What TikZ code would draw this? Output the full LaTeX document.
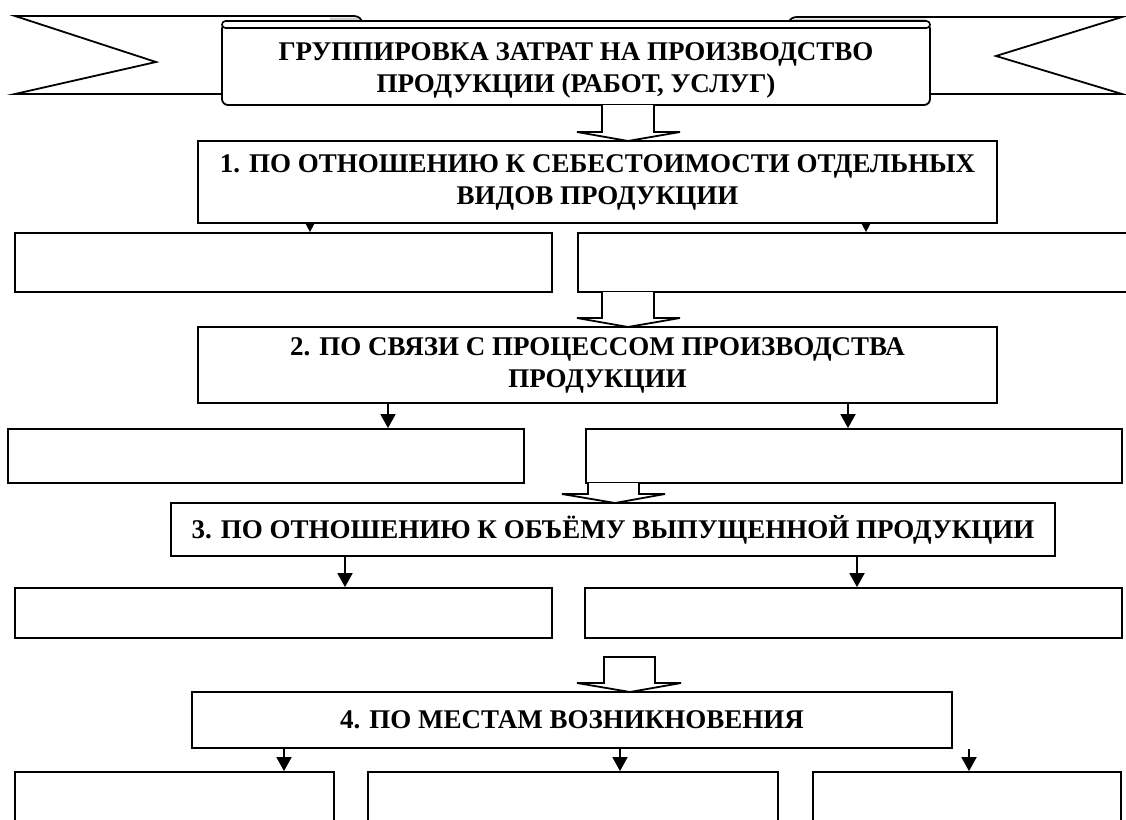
\documentclass[tikz,border=0pt]{standalone}
\usepackage{fontspec}
\setmainfont{Liberation Serif}
\usetikzlibrary{arrows.meta}

\tikzset{
  txt/.style={font=\bfseries\fontsize{27}{32}\selectfont, align=center},
  box/.style={draw, line width=1.8pt, fill=white, inner sep=0pt, txt},
  arr/.style={-{Triangle[width=15pt,length=14pt]}, line width=1.8pt},
  tinyarr/.style={-{Triangle[width=8pt,length=8pt]}, line width=1.4pt},
  bigarr/.style={draw, line width=1.8pt, fill=white},
  ribbon/.style={draw, line width=1.8pt, fill=white},
}

\begin{document}
\begin{tikzpicture}[x=1pt,y=-1pt]
  \useasboundingbox[fill=white] (0,0) rectangle (1126,819);

  % ribbon ends behind the title
  \filldraw[ribbon] (222,94) -- (15,94) -- (156,62) -- (15,16) -- (354,16)
    to[out=0,in=90] (362,23) -- (362,30);
  \fill[gray!40] (330,17.5) -- (353,17.5) to[out=0,in=90] (361,23) -- (330,23) -- cycle;
  \filldraw[ribbon] (930,94) -- (1122,94) -- (996,56) -- (1122,17) -- (797,17)
    to[out=180,in=90] (789,23) -- (789,30);
  \fill[gray!40] (790,23) to[out=90,in=180] (797,18.5) -- (926,18.5) -- (926,23) -- cycle;

  % title
  \node[box, rounded corners=6pt, minimum width=708pt, minimum height=82pt] (ttl) at (576,64) {};
  \filldraw[line width=1.6pt, fill=white, rounded corners=3.5pt] (222,21) rectangle (930,28);
  \node[txt] at (576,70) {ГРУППИРОВКА ЗАТРАТ НА ПРОИЗВОДСТВО\\ПРОДУКЦИИ (РАБОТ, УСЛУГ)};

  % level 1
  \node[box, minimum width=799pt, minimum height=82pt] (b1) at (597.5,182)
    {1. ПО ОТНОШЕНИЮ К СЕБЕСТОИМОСТИ ОТДЕЛЬНЫХ\\ВИДОВ ПРОДУКЦИИ};
  \node[box, minimum width=537pt, minimum height=59pt] (r1l) at (283.5,262.5) {};
  \node[box, minimum width=562pt, minimum height=59pt] (r1r) at (859,262.5) {};

  % level 2
  \node[box, minimum width=799pt, minimum height=76pt] (b2) at (597.5,365)
    {2. ПО СВЯЗИ С ПРОЦЕССОМ ПРОИЗВОДСТВА\\ПРОДУКЦИИ};
  \node[box, minimum width=516pt, minimum height=54pt] (r2l) at (266,456) {};
  \node[box, minimum width=536pt, minimum height=54pt] (r2r) at (854,456) {};

  % level 3
  \node[box, minimum width=884pt, minimum height=53pt] (b3) at (613,529.5)
    {3. ПО ОТНОШЕНИЮ К ОБЪЁМУ ВЫПУЩЕННОЙ ПРОДУКЦИИ};
  \node[box, minimum width=537pt, minimum height=50pt] (r3l) at (283.5,613) {};
  \node[box, minimum width=537pt, minimum height=50pt] (r3r) at (853.5,613) {};

  % level 4
  \node[box, minimum width=760pt, minimum height=56pt] (b4) at (572,720)
    {4. ПО МЕСТАМ ВОЗНИКНОВЕНИЯ};
  \node[box, minimum width=319pt, minimum height=68pt] (r4a) at (174.5,806) {};
  \node[box, minimum width=410pt, minimum height=68pt] (r4b) at (573,806) {};
  \node[box, minimum width=308pt, minimum height=68pt] (r4c) at (967,806) {};

  % wide arrows between levels
  \draw[bigarr] (602,105) -- (602,132) -- (577,132) -- (628,141) -- (680,132) -- (654,132) -- (654,105);
  \draw[bigarr] (602,292) -- (602,318) -- (577,318) -- (628,327) -- (680,318) -- (654,318) -- (654,292);
  \draw[bigarr] (588,483) -- (588,494) -- (562,494) -- (615,503) -- (665,494) -- (639,494) -- (639,483);
  \draw[bigarr] (604,657) -- (604,683) -- (577,683) -- (630,692) -- (681,683) -- (655,683) -- (655,657) -- cycle;

  % thin arrows
  \coordinate (c1) at (310,0);
  \coordinate (c2) at (866,0);
  \coordinate (c3) at (388,0);
  \coordinate (c4) at (848,0);
  \coordinate (c5) at (345,0);
  \coordinate (c6) at (857,0);
  \coordinate (c7) at (284,0);
  \coordinate (c8) at (620,0);
  \coordinate (c9) at (969,0);
  \draw[tinyarr] (c1 |- b1.south) -- (c1 |- r1l.north);
  \draw[tinyarr] (c2 |- b1.south) -- (c2 |- r1r.north);
  \draw[arr] (c3 |- b2.south) -- (c3 |- r2l.north);
  \draw[arr] (c4 |- b2.south) -- (c4 |- r2r.north);
  \draw[arr] (c5 |- b3.south) -- (c5 |- r3l.north);
  \draw[arr] (c6 |- b3.south) -- (c6 |- r3r.north);
  \draw[arr] (c7 |- b4.south) -- (c7 |- r4a.north);
  \draw[arr] (c8 |- b4.south) -- (c8 |- r4b.north);
  \draw[arr] (c9 |- b4.south) -- (c9 |- r4c.north);
\end{tikzpicture}
\end{document}
